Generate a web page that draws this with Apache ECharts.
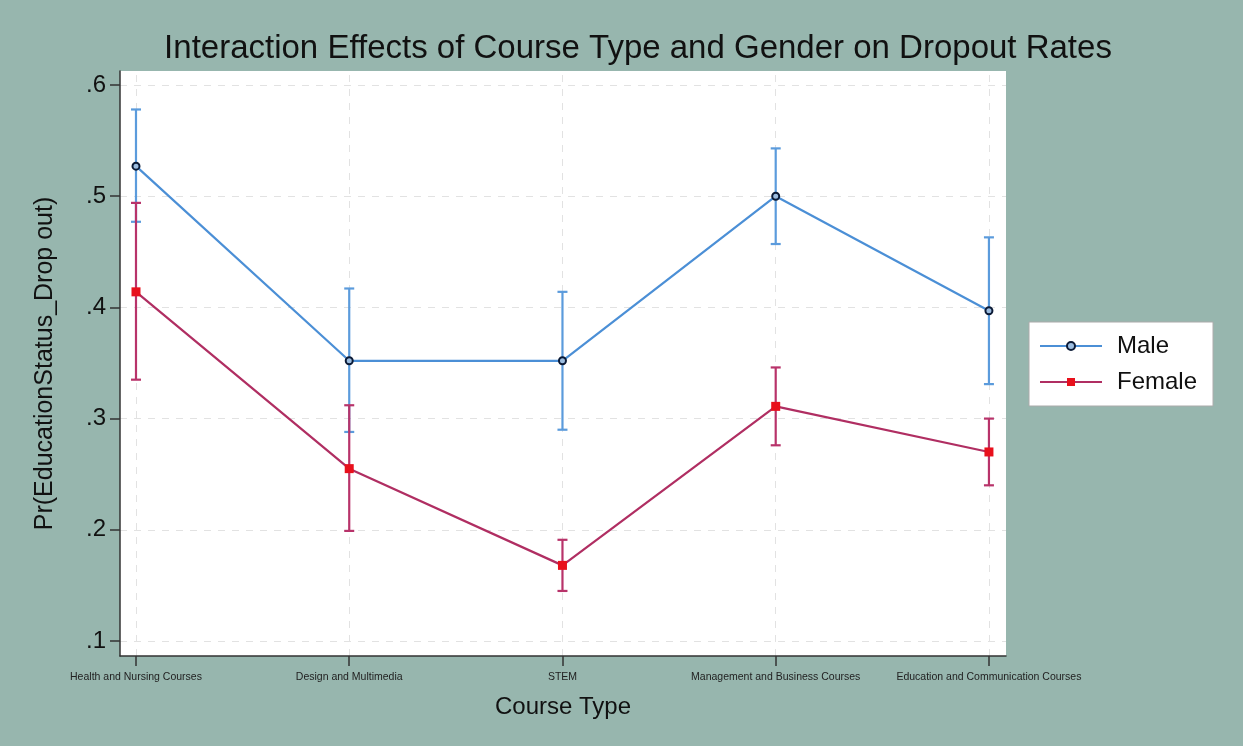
<!DOCTYPE html>
<html>
<head>
<meta charset="utf-8">
<script src="https://cdn.jsdelivr.net/npm/echarts@6/dist/echarts.min.js"></script>
<style>
html,body{margin:0;padding:0;background:#97b6ae;}
#c{width:1243px;height:746px;}
</style>
</head>
<body>
<div id="c"></div>
<script>
const categories = ['Health and Nursing Courses','Design and Multimedia','STEM','Management and Business Courses','Education and Communication Courses'];
const maleValues = [0.527, 0.352, 0.352, 0.500, 0.397];
const maleLow    = [0.477, 0.288, 0.290, 0.457, 0.331];
const maleHigh   = [0.578, 0.417, 0.414, 0.543, 0.463];
const femaleValues = [0.414, 0.255, 0.168, 0.311, 0.270];
const femaleLow    = [0.335, 0.199, 0.145, 0.276, 0.240];
const femaleHigh   = [0.494, 0.312, 0.191, 0.346, 0.300];
const yTicks = [0.1, 0.2, 0.3, 0.4, 0.5, 0.6];
const yTickLabels = ['.1', '.2', '.3', '.4', '.5', '.6'];

const idx = categories.map((c, i) => i);
const maleCI = idx.map(i => [i, maleLow[i], maleHigh[i]]);
const femaleCI = idx.map(i => [i, femaleLow[i], femaleHigh[i]]);

function ciRender(color) {
  return function (params, api) {
    const x = api.value(0);
    const lo = api.coord([x, api.value(1)]);
    const hi = api.coord([x, api.value(2)]);
    const w = 5;
    const style = { stroke: color, lineWidth: 2.2, fill: null, lineDash: null };
    return {
      type: 'group',
      children: [
        { type: 'line', shape: { x1: lo[0], y1: lo[1], x2: hi[0], y2: hi[1] }, style: style },
        { type: 'line', shape: { x1: lo[0] - w, y1: lo[1], x2: lo[0] + w, y2: lo[1] }, style: style },
        { type: 'line', shape: { x1: hi[0] - w, y1: hi[1], x2: hi[0] + w, y2: hi[1] }, style: style }
      ]
    };
  };
}

const sans = '"Liberation Sans", Arial, sans-serif';
const gridStyle = { color: '#e2e2e2', type: [7, 7], width: 1 };
const chart = echarts.init(document.getElementById('c'));
chart.setOption({
  backgroundColor: '#97b6ae',
  animation: false,
  title: {
    text: 'Interaction Effects of Course Type and Gender on Dropout Rates',
    left: 633, top: 27, textAlign: 'center',
    textStyle: { fontFamily: sans, fontSize: 33, fontWeight: 'normal', color: '#111' }
  },
  legend: {
    orient: 'vertical',
    left: 1029, top: 322,
    backgroundColor: '#ffffff',
    borderColor: '#aaaaaa', borderWidth: 1,
    padding: [12, 16, 12, 10],
    itemWidth: 62, itemHeight: 10, itemGap: 12,
    textStyle: { fontFamily: sans, fontSize: 24, color: '#111', padding: [0, 0, 0, 10] },
    data: ['Male', 'Female']
  },
  grid: { left: 120, right: 237, top: 71, bottom: 90, show: true, backgroundColor: '#ffffff', borderWidth: 0 },
  xAxis: {
    type: 'value', min: -0.075, max: 4.08,
    name: 'Course Type', nameLocation: 'middle', nameGap: 39,
    nameTextStyle: { fontFamily: sans, fontSize: 24, color: '#111' },
    axisLine: { show: true, onZero: false, lineStyle: { color: '#333', width: 1.5 } },
    axisTick: { show: true, customValues: idx, length: 10, lineStyle: { color: '#333', width: 1.5 } },
    axisLabel: { customValues: idx, formatter: v => categories[Math.round(v)], fontSize: 10.5, color: '#222', margin: 16, fontFamily: sans },
    splitLine: { show: false }
  },
  yAxis: {
    type: 'value', min: 0.0865, max: 0.6126,
    name: 'Pr(EducationStatus_Drop out)', nameLocation: 'middle', nameGap: 62, nameRotate: 90,
    nameTextStyle: { fontFamily: sans, fontSize: 25, color: '#111' },
    axisLine: { show: true, onZero: false, lineStyle: { color: '#333', width: 1.5 } },
    axisTick: { show: true, customValues: yTicks, length: 10, lineStyle: { color: '#333', width: 1.5 } },
    axisLabel: { customValues: yTicks, formatter: v => yTickLabels[yTicks.findIndex(t => Math.abs(t - v) < 1e-6)], fontSize: 24, color: '#111', margin: 14, fontFamily: sans },
    splitLine: { show: false }
  },
  series: [
    {
      name: 'gridlines', type: 'line', data: [], silent: true, z: 0,
      markLine: {
        silent: true, symbol: 'none', label: { show: false }, animation: false, z: 0,
        lineStyle: gridStyle,
        data: yTicks.map(v => ({ yAxis: v })).concat(idx.map(v => ({ xAxis: v })))
      }
    },
    { name: 'Male CI', type: 'custom', renderItem: ciRender('#5b9bdc'), data: maleCI, z: 3 },
    { name: 'Female CI', type: 'custom', renderItem: ciRender('#b8336a'), data: femaleCI, z: 4 },
    {
      name: 'Male', type: 'line', data: idx.map(i => [i, maleValues[i]]), z: 5,
      lineStyle: { color: '#4b8fd6', width: 2.2 },
      itemStyle: { color: '#9cbde0', borderColor: '#0b1a36', borderWidth: 2 },
      symbol: 'circle', symbolSize: 7, showAllSymbol: true
    },
    {
      name: 'Female', type: 'line', data: idx.map(i => [i, femaleValues[i]]), z: 6,
      lineStyle: { color: '#b02e62', width: 2.2 },
      itemStyle: { color: '#e8101c' },
      symbol: 'rect', symbolSize: 9, showAllSymbol: true
    }
  ]
});
</script>
</body>
</html>
